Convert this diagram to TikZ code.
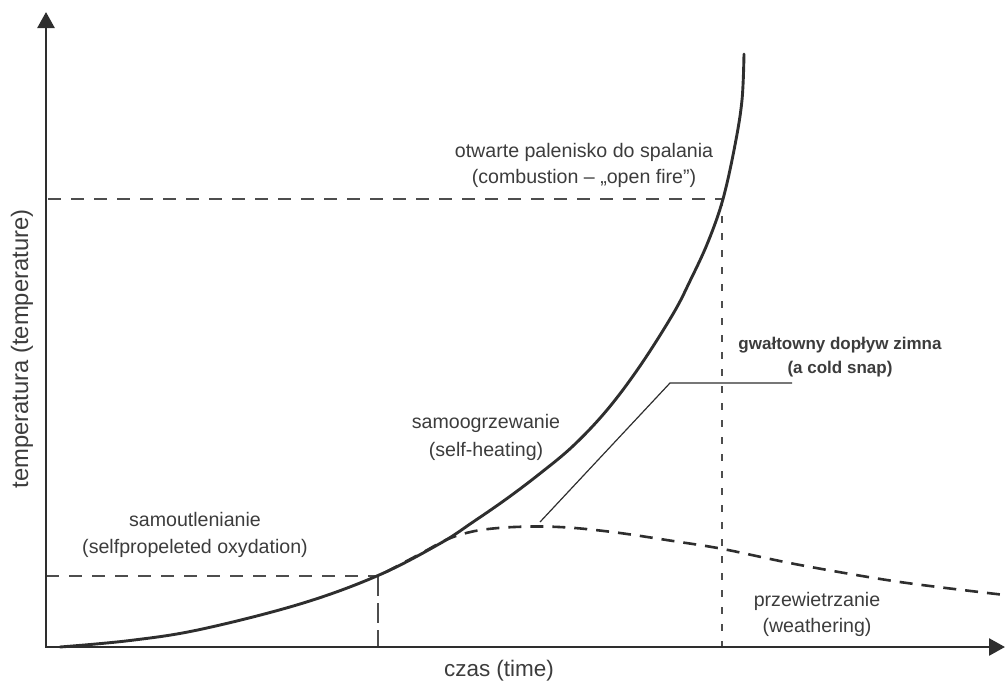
\documentclass[tikz,border=0pt]{standalone}
\usepackage{fontspec}
\setmainfont{Liberation Sans}
\usetikzlibrary{arrows.meta}
\definecolor{ink}{HTML}{2E2E2E}
\definecolor{txt}{HTML}{3C3C3C}
\begin{document}
\begin{tikzpicture}[x=1pt,y=-1pt,
  lbl/.style={anchor=base, inner sep=0pt, text=txt, font=\fontsize{19.6}{24}\selectfont},
  boldlbl/.style={anchor=base, inner sep=0pt, text=txt, font=\fontsize{17}{22}\selectfont\bfseries},
  axislbl/.style={anchor=base, inner sep=0pt, text=txt, font=\fontsize{22.5}{26}\selectfont},
  axisline/.style={line width=2.6pt, draw=ink, line join=miter,
    {Triangle[length=16pt,width=17pt]}-{Triangle[length=16pt,width=17pt]}},
  guide/.style={line width=1.2pt, draw=ink!85},
  mainline/.style={line width=2.9pt, draw=ink, line cap=round},
  coolline/.style={line width=2.6pt, draw=ink, dash pattern=on 13pt off 9pt},
  leader/.style={line width=1.2pt, draw=ink}]
\useasboundingbox (0,0) rectangle (1005,681);

% named points
\coordinate (O) at (46,647);
\coordinate (Ytip) at (46,12);
\coordinate (Xtip) at (1005,647);
\coordinate (P1) at (378,576);
\coordinate (P1y) at (46,576);
\coordinate (P1x) at (378,647);
\coordinate (P2) at (722,199);
\coordinate (P2y) at (48,199);
\coordinate (P2x) at (722,647);
\coordinate (L1) at (540,522);
\coordinate (L2) at (670,383);
\coordinate (L3) at (792,383);

% guide lines
\draw[guide, dash pattern=on 13pt off 10pt] (P1y) -- (P1);
\draw[guide, dash pattern=on 20pt off 7pt] (P1) -- (P1x);
\draw[guide, dash pattern=on 13pt off 10pt] (P2y) -- (P2);
\draw[guide, dash pattern=on 7pt off 10pt] (P2) -- (P2x);

% cooling (weathering) branch
\draw[coolline] plot[smooth, tension=0.55] coordinates {
  (386,572) (420,554) (448,539) (475,531) (505,527.5) (540,526.5)
  (575,528) (620,533) (673,541) (723,549) (800,565) (900,582) (1005,595)};

% main heating curve
\draw[mainline] plot[smooth, tension=0.6] coordinates {
  (60,647) (130,640.5) (200,629.5) (300,604) (378,575.5) (440,543.5) (473,522)
  (507,498.5) (540,473.5) (573,446) (607,410) (640,366) (673,314) (690,281)
  (708,242) (723,199) (735,145) (742,100) (744,54)};

% leader line
\draw[leader] (L1) -- (L2) -- (L3);

% axes
\draw[axisline] (Ytip) -- (O) -- (Xtip);

% labels
\node[lbl] (fire1) at (584,157) {otwarte palenisko do spalania};
\node[lbl] (fire2) at (584,183) {(combustion – „open fire”)};
\node[boldlbl] (snap1) at (840,349) {gwałtowny dopływ zimna};
\node[boldlbl] (snap2) at (840,373) {(a cold snap)};
\node[lbl] (heat1) at (486,428) {samoogrzewanie};
\node[lbl] (heat2) at (486,456) {(self-heating)};
\node[lbl] (ox1) at (195,526) {samoutlenianie};
\node[lbl] (ox2) at (195,553) {(selfpropeleted oxydation)};
\node[lbl] (wea1) at (817,606) {przewietrzanie};
\node[lbl] (wea2) at (817,632) {(weathering)};
\node[axislbl] (xl) at (499,676) {czas (time)};
\node[axislbl, rotate=90, font=\fontsize{23.8}{27}\selectfont] (yl) at (28,349) {temperatura (temperature)};
\end{tikzpicture}
\end{document}
